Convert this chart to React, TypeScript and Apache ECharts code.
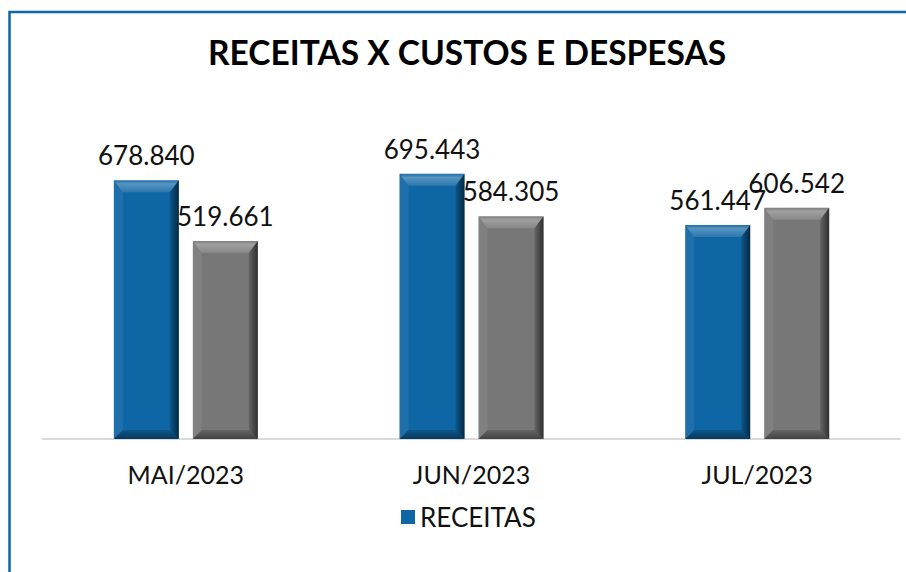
import React, { useEffect, useRef } from "react";
import * as echarts from "echarts";

const categories = ["MAI/2023", "JUN/2023", "JUL/2023"];
const receitas = [678840, 695443, 561447];
const custos = [519661, 584305, 606542];
const seriesNames = ["RECEITAS", "CUSTOS E DESPESAS"];
const titleText = "RECEITAS X CUSTOS E DESPESAS";

const BLUE = "#0F66A4";
const GRAY = "#777777";
const BAR_W = 65;
const GAP = 14;

const fmt = (v: number) => {
  const s = Math.round(v).toString();
  return s.replace(/\B(?=(\d{3})+(?!\d))/g, ".");
};

function bevel(offset: number) {
  return (params: any, api: any) => {
    const cat = api.value(0);
    const val = api.value(1);
    const top = api.coord([cat, val]);
    const base = api.coord([cat, 0]);
    const cx = top[0] + offset;
    const x0 = cx - BAR_W / 2;
    const x1 = cx + BAR_W / 2;
    const y0 = top[1];
    const y1 = base[1];
    const b = 9;
    return {
      type: "group",
      children: [
        {
          type: "polygon",
          shape: { points: [[x0, y0], [x1, y0], [x1 - b, y0 + b + 3], [x0 + b, y0 + b + 3]] },
          style: {
            fill: new echarts.graphic.LinearGradient(0, 0, 0, 1, [
              { offset: 0, color: "rgba(255,255,255,0.05)" },
              { offset: 0.3, color: "rgba(255,255,255,0.3)" },
              { offset: 1, color: "rgba(255,255,255,0.12)" },
            ]),
          },
        },
        {
          type: "polygon",
          shape: { points: [[x0, y0], [x0 + b, y0 + b + 3], [x0 + b, y1 - b], [x0, y1]] },
          style: { fill: "rgba(255,255,255,0.07)" },
        },
        {
          type: "polygon",
          shape: { points: [[x1, y0], [x1 - b, y0 + b + 3], [x1 - b, y1 - b], [x1, y1]] },
          style: {
            fill: new echarts.graphic.LinearGradient(0, 0, 1, 0, [
              { offset: 0, color: "rgba(0,0,0,0.15)" },
              { offset: 1, color: "rgba(0,0,0,0.6)" },
            ]),
          },
        },
        {
          type: "polygon",
          shape: { points: [[x0, y1], [x0 + b, y1 - b], [x1 - b, y1 - b], [x1, y1]] },
          style: {
            fill: new echarts.graphic.LinearGradient(0, 0, 0, 1, [
              { offset: 0, color: "rgba(0,0,0,0.15)" },
              { offset: 1, color: "rgba(0,0,0,0.45)" },
            ]),
          },
        },
      ],
    };
  };
}

export default function App() {
  const ref = useRef<HTMLDivElement>(null);
  useEffect(() => {
    if (!ref.current) return;
    const chart = echarts.init(ref.current, null, { renderer: "svg" });
    const labelStyle = {
      show: true,
      position: "top",
      distance: 12,
      fontFamily: "Lato",
      fontSize: 26,
      color: "#111",
      formatter: (p: any) => fmt(p.value),
    };
    chart.setOption({
      animation: false,
      backgroundColor: "#fff",
      title: {
        text: titleText,
        left: 203,
        top: 30,
        textStyle: { fontFamily: "Lato", fontWeight: "bold", fontSize: 33.5, color: "#000" },
      },
      graphic: [
        {
          type: "rect",
          shape: { x: 9.5, y: 12, width: 1000, height: 1000 },
          style: { fill: "none", stroke: "#0E66A6", lineWidth: 2.5 },
          z: 100,
        },
      ],
      legend: {
        data: [seriesNames[0]],
        left: 396,
        top: 499,
        icon: "rect",
        itemWidth: 14,
        itemHeight: 14,
        itemGap: 6,
        textStyle: { fontFamily: "Lato", fontSize: 26, color: "#111" },
      },
      grid: { left: 43, right: 6, top: 134, bottom: 133, containLabel: false },
      xAxis: {
        type: "category",
        data: categories,
        axisLine: { show: true, lineStyle: { color: "#D9D9D9", width: 2 } },
        axisTick: { show: false },
        axisLabel: { fontFamily: "Lato", fontSize: 25, color: "#111", margin: 22 },
      },
      yAxis: {
        type: "value",
        min: 0,
        max: 800000,
        show: false,
        splitLine: { show: false },
      },
      series: [
        {
          name: seriesNames[0],
          type: "bar",
          data: receitas,
          barWidth: BAR_W,
          barGap: (GAP / BAR_W) * 100 + "%",
          itemStyle: { color: BLUE },
          label: labelStyle,
          z: 2,
        },
        {
          name: seriesNames[1],
          type: "bar",
          data: custos,
          barWidth: BAR_W,
          itemStyle: { color: GRAY },
          label: labelStyle,
          z: 2,
        },
        {
          type: "custom",
          data: receitas.map((v, i) => [i, v]),
          renderItem: bevel(-(BAR_W + GAP) / 2),
          silent: true,
          z: 3,
        },
        {
          type: "custom",
          data: custos.map((v, i) => [i, v]),
          renderItem: bevel((BAR_W + GAP) / 2),
          silent: true,
          z: 3,
        },
      ],
    });
    return () => chart.dispose();
  }, []);
  return (
    <div
      ref={ref}
      style={{ position: "absolute", left: 0, top: 0, width: 906, height: 572 }}
    />
  );
}
